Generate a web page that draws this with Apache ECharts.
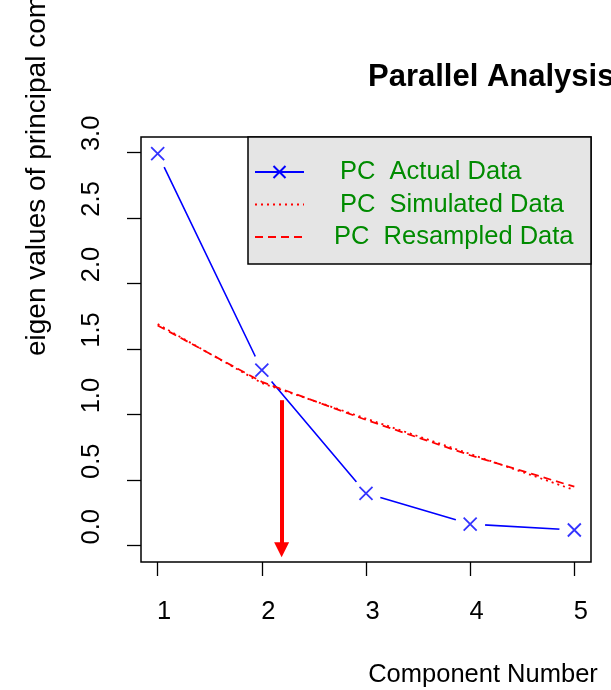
<!DOCTYPE html>
<html>
<head>
<meta charset="utf-8">
<script src="https://cdn.jsdelivr.net/npm/echarts@6/dist/echarts.min.js"></script>
<style>html,body{margin:0;padding:0;background:#fff}#c{width:611px;height:690px}</style>
</head>
<body>
<div id="c"></div>
<script>
const components = [1, 2, 3, 4, 5];
const actualData = [2.99, 1.34, 0.40, 0.165, 0.12];
const simulatedData = [1.69, 1.24, 0.97, 0.70, 0.425];
const resampledData = [1.68, 1.25, 0.96, 0.69, 0.45];
const xTicks = [1, 2, 3, 4, 5];
const yTicks = [0, 0.5, 1, 1.5, 2, 2.5, 3];
const seriesNames = ['PC  Actual Data', 'PC  Simulated Data', 'PC  Resampled Data'];
const arrowX = 2.19, arrowFrom = 1.11, arrowTo = -0.03;
const titleText = 'Parallel Analysis Scree Plots';
const yLabelText = 'eigen values of principal components and factor analysis';
const xLabelText = 'Component Number';

const FONT = 'Liberation Sans, Arial, sans-serif';
const FS = 25.5;
const pair = (ys) => components.map((x, i) => [x, ys[i]]);
const cross = 'path://M0,0L10,10M10,0L0,10';

const chart = echarts.init(document.getElementById('c'), null, {renderer: 'canvas'});
chart.setOption({
  animation: false,
  backgroundColor: '#fff',
  textStyle: {fontFamily: FONT},
  grid: {left: 141, right: 20, top: 137, bottom: 128, show: true, borderColor: '#000', borderWidth: 1.5, backgroundColor: 'transparent'},
  title: {text: titleText, left: 368, top: 62, padding: 0, textStyle: {fontFamily: FONT, fontSize: 31, fontWeight: 'bold', color: '#000'}},
  xAxis: {
    type: 'value', min: 0.84, max: 5.16,
    axisLine: {show: false, onZero: false}, splitLine: {show: false},
    axisTick: {show: true, length: 14, customValues: xTicks, lineStyle: {color: '#000', width: 1.3}},
    axisLabel: {customValues: xTicks, margin: 37, fontSize: FS, color: '#000', fontFamily: FONT, padding: [0, 0, 0, 13]}
  },
  yAxis: {
    type: 'value', min: -0.124, max: 3.117,
    axisLine: {show: false, onZero: false}, splitLine: {show: false},
    axisTick: {show: true, length: 14, customValues: yTicks, lineStyle: {color: '#000', width: 1.3}},
    axisLabel: {customValues: yTicks, rotate: 90, margin: 36, fontSize: FS, color: '#000', fontFamily: FONT, padding: [0, 0, 0, 38],
      formatter: v => v.toFixed(1)}
  },
  legend: {
    show: true, orient: 'vertical', left: 254, top: 159, padding: 0, itemGap: 6.5,
    itemWidth: 49, itemHeight: 15, z: 6,
    data: [
      {name: seriesNames[0], textStyle: {padding: [0, 0, 0, 31]}},
      {name: seriesNames[1], textStyle: {padding: [0, 0, 0, 31]}, itemStyle: {opacity: 0}},
      {name: seriesNames[2], textStyle: {padding: [0, 0, 0, 25]}, itemStyle: {opacity: 0}}
    ],
    textStyle: {fontSize: FS, color: '#008B00', fontFamily: FONT, lineHeight: 26}
  },
  graphic: [
    {type: 'rect', z: 3, shape: {x: 248, y: 137, width: 343, height: 127}, style: {fill: '#E5E5E5', stroke: '#000', lineWidth: 1.5}},
    {type: 'text', z: 3, x: 37, y: 356, rotation: Math.PI / 2,
      style: {text: yLabelText, fontSize: 28, fontFamily: FONT, fill: '#000', align: 'left', verticalAlign: 'middle'}},
    {type: 'text', z: 3, x: 483, y: 675,
      style: {text: xLabelText, fontSize: FS, fontFamily: FONT, fill: '#000', align: 'center', verticalAlign: 'middle'}}
  ],
  series: [
    {name: seriesNames[0], type: 'line', z: 1, data: pair(actualData), symbol: cross, symbolSize: 13,
      lineStyle: {color: '#0000FF', width: 1.6}, itemStyle: {color: '#0000FF', borderColor: '#0000FF', borderWidth: 1.8}},
    {name: 'gap', type: 'scatter', z: 2, data: pair(actualData), symbol: 'circle', symbolSize: 30,
      itemStyle: {color: '#fff', opacity: 1}, silent: true},
    {name: seriesNames[1], type: 'line', z: 3, data: pair(simulatedData), symbol: 'none',
      lineStyle: {color: '#FF0000', width: 1.8, type: [2, 4]}, itemStyle: {color: '#FF0000'}},
    {name: seriesNames[2], type: 'line', z: 3, data: pair(resampledData), symbol: 'none',
      lineStyle: {color: '#FF0000', width: 1.8, type: [8, 5]}, itemStyle: {color: '#FF0000'},
      markLine: {silent: true, symbol: ['none', 'triangle'], symbolSize: [15, 15], label: {show: false},
        lineStyle: {color: '#FF0000', width: 4, type: 'solid'},
        data: [[{coord: [arrowX, arrowFrom]}, {coord: [arrowX, arrowTo]}]]}},
    {name: 'marks', type: 'scatter', z: 4, data: pair(actualData), symbol: cross, symbolSize: 13,
      itemStyle: {color: '#0000FF', borderColor: '#0000FF', borderWidth: 1.8}}
  ]
});
</script>
</body>
</html>
